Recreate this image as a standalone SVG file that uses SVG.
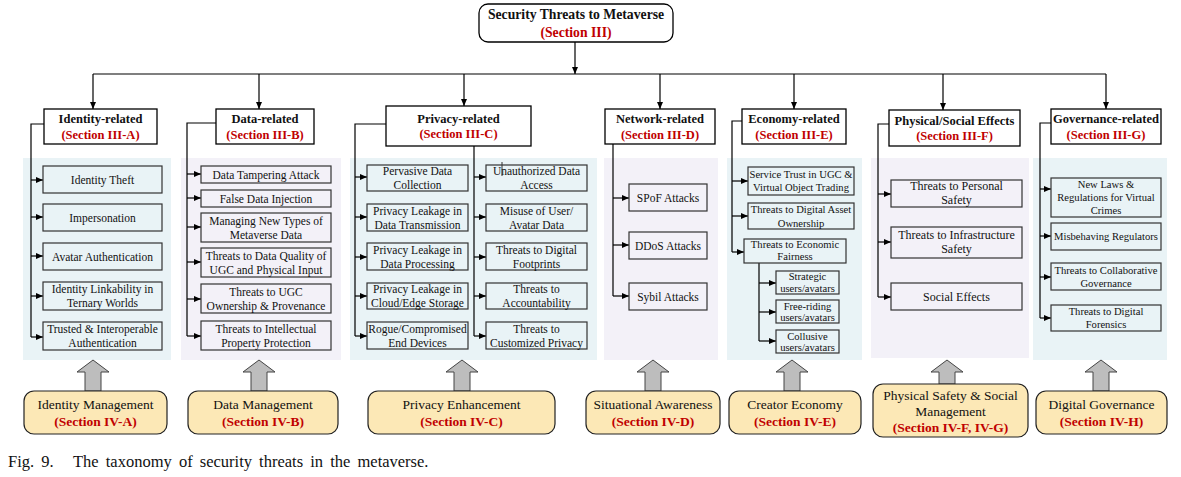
<svg xmlns="http://www.w3.org/2000/svg" width="1181" height="477" viewBox="0 0 1181 477">
<defs>
<marker id="ah" viewBox="0 0 10 10" preserveAspectRatio="none" refX="10" refY="5" markerWidth="7" markerHeight="6" markerUnits="userSpaceOnUse" orient="auto"><path d="M0,0 L10,5 L0,10 z" fill="#000"/></marker>
<style>
.pb{fill:#E9F3F6}
.pl{fill:#F3F1F8}
.hd{fill:#fff;stroke:#000;stroke-width:1.3}
.cb{fill:#E9F3F6;stroke:#333;stroke-width:1.2}
.cl{fill:#F3F1F8;stroke:#333;stroke-width:1.2}
.ln{fill:none;stroke:#000;stroke-width:1.2}
.ar{fill:none;stroke:#000;stroke-width:1.2;marker-end:url(#ah)}
.ba{fill:#BDBDBD;stroke:#444;stroke-width:1}
.bb{fill:#FCE8B6;stroke:#222;stroke-width:1.2}
text{font-family:"Liberation Serif","Times New Roman",serif;fill:#111;text-anchor:middle}
.h{font-weight:bold;font-size:12.5px}
.r{fill:#C00000;font-weight:bold}
.t{font-size:11.5px}
.s{font-size:10.6px}
.p{font-size:12px}
.b{font-size:13.5px}
.cap{font-size:16.5px;text-anchor:start;word-spacing:3px}
</style>
</defs>

<g id="panels">
<rect class="pb" x="23" y="158" width="148" height="202"/>
<rect class="pl" x="181" y="158" width="160" height="202"/>
<rect class="pb" x="350" y="158" width="247" height="202"/>
<rect class="pl" x="604" y="158" width="114" height="202"/>
<rect class="pb" x="727" y="158" width="135" height="202"/>
<rect class="pl" x="871" y="158" width="158" height="200"/>
<rect class="pb" x="1033" y="158" width="134" height="202"/>
</g>

<g id="connectors">
<line class="ar" x1="575" y1="42" x2="575" y2="74"/>
<line class="ln" x1="93" y1="74" x2="1106" y2="74"/>
<line class="ar" x1="93" y1="74" x2="93" y2="109"/>
<line class="ar" x1="259" y1="74" x2="259" y2="109"/>
<line class="ar" x1="464" y1="74" x2="464" y2="106"/>
<line class="ar" x1="660" y1="74" x2="660" y2="109"/>
<line class="ar" x1="794" y1="74" x2="794" y2="109"/>
<line class="ar" x1="943" y1="74" x2="943" y2="110"/>
<line class="ar" x1="1106" y1="74" x2="1106" y2="109"/>
<!-- identity -->
<polyline class="ln" points="44,124 31,124 31,337"/>
<line class="ar" x1="31" y1="180" x2="43" y2="180"/>
<line class="ar" x1="31" y1="217" x2="43" y2="217"/>
<line class="ar" x1="31" y1="256" x2="43" y2="256"/>
<line class="ar" x1="31" y1="296" x2="43" y2="296"/>
<line class="ar" x1="31" y1="337" x2="43" y2="337"/>
<!-- data -->
<polyline class="ln" points="216,123 187,123 187,336"/>
<line class="ar" x1="187" y1="174" x2="201" y2="174"/>
<line class="ar" x1="187" y1="198" x2="201" y2="198"/>
<line class="ar" x1="187" y1="227" x2="201" y2="227"/>
<line class="ar" x1="187" y1="262" x2="201" y2="262"/>
<line class="ar" x1="187" y1="299" x2="201" y2="299"/>
<line class="ar" x1="187" y1="336" x2="201" y2="336"/>
<!-- privacy -->
<polyline class="ln" points="386,124 355,124 355,336"/>
<line class="ar" x1="355" y1="177" x2="367" y2="177"/>
<line class="ar" x1="355" y1="217" x2="367" y2="217"/>
<line class="ar" x1="355" y1="257" x2="367" y2="257"/>
<line class="ar" x1="355" y1="296" x2="367" y2="296"/>
<line class="ar" x1="355" y1="336" x2="367" y2="336"/>
<line class="ln" x1="474" y1="146" x2="474" y2="336"/>
<line class="ar" x1="474" y1="177" x2="486" y2="177"/>
<line class="ar" x1="474" y1="217" x2="486" y2="217"/>
<line class="ar" x1="474" y1="257" x2="486" y2="257"/>
<line class="ar" x1="474" y1="296" x2="486" y2="296"/>
<line class="ar" x1="474" y1="336" x2="486" y2="336"/>
<!-- network -->
<line class="ln" x1="613" y1="144" x2="613" y2="296"/>
<line class="ar" x1="613" y1="198" x2="629" y2="198"/>
<line class="ar" x1="613" y1="245" x2="629" y2="245"/>
<line class="ar" x1="613" y1="296" x2="629" y2="296"/>
<!-- economy -->
<polyline class="ln" points="742,121 732,121 732,252"/>
<line class="ar" x1="732" y1="181" x2="748" y2="181"/>
<line class="ar" x1="732" y1="216" x2="748" y2="216"/>
<line class="ar" x1="732" y1="252" x2="744" y2="252"/>
<line class="ln" x1="759" y1="263" x2="759" y2="341"/>
<line class="ar" x1="759" y1="283" x2="776" y2="283"/>
<line class="ar" x1="759" y1="312" x2="776" y2="312"/>
<line class="ar" x1="759" y1="341" x2="776" y2="341"/>
<!-- physical -->
<polyline class="ln" points="889,124 878,124 878,297"/>
<line class="ar" x1="878" y1="194" x2="891" y2="194"/>
<line class="ar" x1="878" y1="242" x2="891" y2="242"/>
<line class="ar" x1="878" y1="297" x2="891" y2="297"/>
<!-- governance -->
<polyline class="ln" points="1051,123 1040,123 1040,318"/>
<line class="ar" x1="1040" y1="189" x2="1051" y2="189"/>
<line class="ar" x1="1040" y1="236" x2="1051" y2="236"/>
<line class="ar" x1="1040" y1="277" x2="1051" y2="277"/>
<line class="ar" x1="1040" y1="318" x2="1051" y2="318"/>
<!-- bottom arrows -->
<polygon class="ba" points="93,360 109,372 101,372 101,391 85,391 85,372 77,372"/>
<polygon class="ba" points="259,360 275,372 267,372 267,391 251,391 251,372 243,372"/>
<polygon class="ba" points="462,360 478,372 470,372 470,391 454,391 454,372 446,372"/>
<polygon class="ba" points="653,360 669,372 661,372 661,391 645,391 645,372 637,372"/>
<polygon class="ba" points="792,360 808,372 800,372 800,391 784,391 784,372 776,372"/>
<polygon class="ba" points="947,360 963,372 955,372 955,384 939,384 939,372 931,372"/>
<polygon class="ba" points="1101,360 1117,372 1109,372 1109,391 1093,391 1093,372 1085,372"/>
</g>

<g id="root">
<rect x="479" y="4" width="194" height="38" rx="9" fill="#fff" stroke="#000" stroke-width="1.3"/>
<text x="576" y="19" style="font-weight:bold;font-size:13.7px">Security Threats to Metaverse</text>
<text class="r" x="576" y="36.5" style="font-size:13.7px">(Section III)</text>
</g>

<g id="identity">
<rect class="hd" x="44" y="109" width="113" height="35"/>
<text class="h" x="100.5" y="123">Identity-related</text>
<text class="h r" x="100.5" y="138.5">(Section III-A)</text>
<rect class="cb" x="43" y="166" width="119" height="27"/><text class="t" x="102.5" y="183.5">Identity Theft</text>
<rect class="cb" x="43" y="204" width="119" height="27"/><text class="t" x="102.5" y="221.5">Impersonation</text>
<rect class="cb" x="43" y="243" width="119" height="27"/><text class="t" x="102.5" y="260.5">Avatar Authentication</text>
<rect class="cb" x="43" y="282" width="119" height="28"/><text class="t" x="102.5" y="293">Identity Linkability in</text><text class="t" x="102.5" y="307">Ternary Worlds</text>
<rect class="cb" x="43" y="322" width="119" height="28"/><text class="t" x="102.5" y="332.5">Trusted &amp; Interoperable</text><text class="t" x="102.5" y="346.5">Authentication</text>
</g>

<g id="data">
<rect class="hd" x="216" y="109" width="98" height="35"/>
<text class="h" x="265" y="123">Data-related</text>
<text class="h r" x="265" y="138.5">(Section III-B)</text>
<rect class="cl" x="201" y="166" width="130" height="17"/><text class="t" x="266" y="178.5">Data Tampering Attack</text>
<rect class="cl" x="201" y="190" width="130" height="17"/><text class="t" x="266" y="202.5">False Data Injection</text>
<rect class="cl" x="201" y="213" width="130" height="29"/><text class="t" x="266" y="224.5">Managing New Types of</text><text class="t" x="266" y="238.5">Metaverse Data</text>
<rect class="cl" x="201" y="248" width="130" height="29"/><text class="t" x="266" y="259.5">Threats to Data Quality of</text><text class="t" x="266" y="273.5">UGC and Physical Input</text>
<rect class="cl" x="201" y="284" width="130" height="29"/><text class="t" x="266" y="295.5">Threats to UGC</text><text class="t" x="266" y="309.5">Ownership &amp; Provenance</text>
<rect class="cl" x="201" y="321" width="130" height="29"/><text class="t" x="266" y="332.5">Threats to Intellectual</text><text class="t" x="266" y="346.5">Property Protection</text>
</g>

<g id="privacy">
<rect class="hd" x="386" y="106" width="145" height="40"/>
<text class="h" x="458.5" y="122.5">Privacy-related</text>
<text class="h r" x="458.5" y="138">(Section III-C)</text>
<rect class="cb" x="367" y="165" width="101" height="26"/><text class="t" x="417.5" y="175">Pervasive Data</text><text class="t" x="417.5" y="189">Collection</text>
<rect class="cb" x="367" y="204" width="101" height="27"/><text class="t" x="417.5" y="214.5">Privacy Leakage in</text><text class="t" x="417.5" y="228.5">Data Transmission</text>
<rect class="cb" x="367" y="243" width="101" height="27"/><text class="t" x="417.5" y="253.5">Privacy Leakage in</text><text class="t" x="417.5" y="267.5">Data Processing</text>
<rect class="cb" x="367" y="283" width="101" height="26"/><text class="t" x="417.5" y="293">Privacy Leakage in</text><text class="t" x="417.5" y="307">Cloud/Edge Storage</text>
<rect class="cb" x="367" y="322" width="101" height="27"/><text class="t" x="417.5" y="332.5">Rogue/Compromised</text><text class="t" x="417.5" y="346.5">End Devices</text>
<rect class="cb" x="486" y="165" width="101" height="26"/><text class="t" x="536.5" y="175">Unauthorized Data</text><text class="t" x="536.5" y="189">Access</text>
<line x1="502" y1="162" x2="502" y2="176" stroke="#333" stroke-width="1"/>
<rect class="cb" x="486" y="204" width="101" height="27"/><text class="t" x="536.5" y="214.5">Misuse of User/</text><text class="t" x="536.5" y="228.5">Avatar Data</text>
<rect class="cb" x="486" y="243" width="101" height="27"/><text class="t" x="536.5" y="253.5">Threats to Digital</text><text class="t" x="536.5" y="267.5">Footprints</text>
<rect class="cb" x="486" y="283" width="101" height="26"/><text class="t" x="536.5" y="293">Threats to</text><text class="t" x="536.5" y="307">Accountability</text>
<rect class="cb" x="486" y="322" width="101" height="27"/><text class="t" x="536.5" y="332.5">Threats to</text><text class="t" x="536.5" y="346.5">Customized Privacy</text>
</g>

<g id="network">
<rect class="hd" x="605" y="109" width="110" height="35"/>
<text class="h" x="660" y="123">Network-related</text>
<text class="h r" x="660" y="138.5">(Section III-D)</text>
<rect class="cl" x="629" y="184" width="78" height="27"/><text class="t" x="668" y="201.5">SPoF Attacks</text>
<rect class="cl" x="629" y="232" width="78" height="27"/><text class="t" x="668" y="249.5">DDoS Attacks</text>
<rect class="cl" x="629" y="283" width="78" height="27"/><text class="t" x="668" y="300.5">Sybil Attacks</text>
</g>

<g id="economy">
<rect class="hd" x="742" y="109" width="104" height="35"/>
<text class="h" x="794" y="123">Economy-related</text>
<text class="h r" x="794" y="138.5">(Section III-E)</text>
<rect class="cb" x="748" y="167" width="106" height="28"/><text class="s" x="801" y="178">Service Trust in UGC &amp;</text><text class="s" x="801" y="191">Virtual Object Trading</text>
<rect class="cb" x="748" y="203" width="106" height="26"/><text class="s" x="801" y="213">Threats to Digital Asset</text><text class="s" x="801" y="226.5">Ownership</text>
<rect class="cb" x="744" y="239" width="102" height="24"/><text class="s" x="795" y="248">Threats to Economic</text><text class="s" x="795" y="260">Fairness</text>
<rect class="cb" x="776" y="271" width="63" height="23"/><text class="s" x="807.5" y="280">Strategic</text><text class="s" x="807.5" y="292">users/avatars</text>
<rect class="cb" x="776" y="300" width="63" height="23"/><text class="s" x="807.5" y="309.5">Free-riding</text><text class="s" x="807.5" y="321">users/avatars</text>
<rect class="cb" x="776" y="330" width="63" height="23"/><text class="s" x="807.5" y="339.5">Collusive</text><text class="s" x="807.5" y="351">users/avatars</text>
</g>

<g id="physical">
<rect class="hd" x="889" y="110" width="131" height="36"/>
<text class="h" x="954.5" y="125">Physical/Social Effects</text>
<text class="h r" x="954.5" y="140">(Section III-F)</text>
<rect class="cl" x="891" y="180" width="131" height="27"/><text class="p" x="956.5" y="190">Threats to Personal</text><text class="p" x="956.5" y="204">Safety</text>
<rect class="cl" x="891" y="227" width="131" height="31"/><text class="p" x="956.5" y="239">Threats to Infrastructure</text><text class="p" x="956.5" y="253">Safety</text>
<rect class="cl" x="891" y="283" width="131" height="27"/><text class="p" x="956.5" y="300.5">Social Effects</text>
</g>

<g id="governance">
<rect class="hd" x="1051" y="109" width="110" height="35"/>
<text class="h" x="1106" y="123">Governance-related</text>
<text class="h r" x="1106" y="138.5">(Section III-G)</text>
<rect class="cb" x="1051" y="178" width="110" height="39"/><text class="s" x="1106" y="188">New Laws &amp;</text><text class="s" x="1106" y="201">Regulations for Virtual</text><text class="s" x="1106" y="214">Crimes</text>
<rect class="cb" x="1051" y="223" width="110" height="27"/><text class="s" x="1106" y="240">Misbehaving Regulators</text>
<rect class="cb" x="1051" y="263" width="110" height="27"/><text class="s" x="1106" y="274">Threats to Collaborative</text><text class="s" x="1106" y="287">Governance</text>
<rect class="cb" x="1051" y="305" width="110" height="26"/><text class="s" x="1106" y="315">Threats to Digital</text><text class="s" x="1106" y="328">Forensics</text>
</g>

<g id="solutions">
<rect class="bb" x="24" y="391" width="143" height="43" rx="10"/><text class="b" x="95.5" y="409">Identity Management</text><text class="b r" x="95.5" y="426">(Section IV-A)</text>
<rect class="bb" x="188" y="391" width="150" height="43" rx="10"/><text class="b" x="263" y="409">Data Management</text><text class="b r" x="263" y="426">(Section IV-B)</text>
<rect class="bb" x="368" y="391" width="187" height="43" rx="10"/><text class="b" x="461.5" y="409">Privacy Enhancement</text><text class="b r" x="461.5" y="426">(Section IV-C)</text>
<rect class="bb" x="586" y="391" width="134" height="43" rx="10"/><text class="b" x="653" y="409">Situational Awareness</text><text class="b r" x="653" y="426">(Section IV-D)</text>
<rect class="bb" x="729" y="391" width="132" height="43" rx="10"/><text class="b" x="795" y="409">Creator Economy</text><text class="b r" x="795" y="426">(Section IV-E)</text>
<rect class="bb" x="873" y="384" width="155" height="53" rx="10"/><text class="b" x="950.5" y="400">Physical Safety &amp; Social</text><text class="b" x="950.5" y="416">Management</text><text class="b r" x="950.5" y="432">(Section IV-F, IV-G)</text>
<rect class="bb" x="1036" y="391" width="131" height="43" rx="10"/><text class="b" x="1101.5" y="409">Digital Governance</text><text class="b r" x="1101.5" y="426">(Section IV-H)</text>
</g>

<g id="caption">
<text class="cap" x="8" y="467">Fig. 9.</text>
<text class="cap" x="73" y="467">The taxonomy of security threats in the metaverse.</text>
</g>
</svg>
